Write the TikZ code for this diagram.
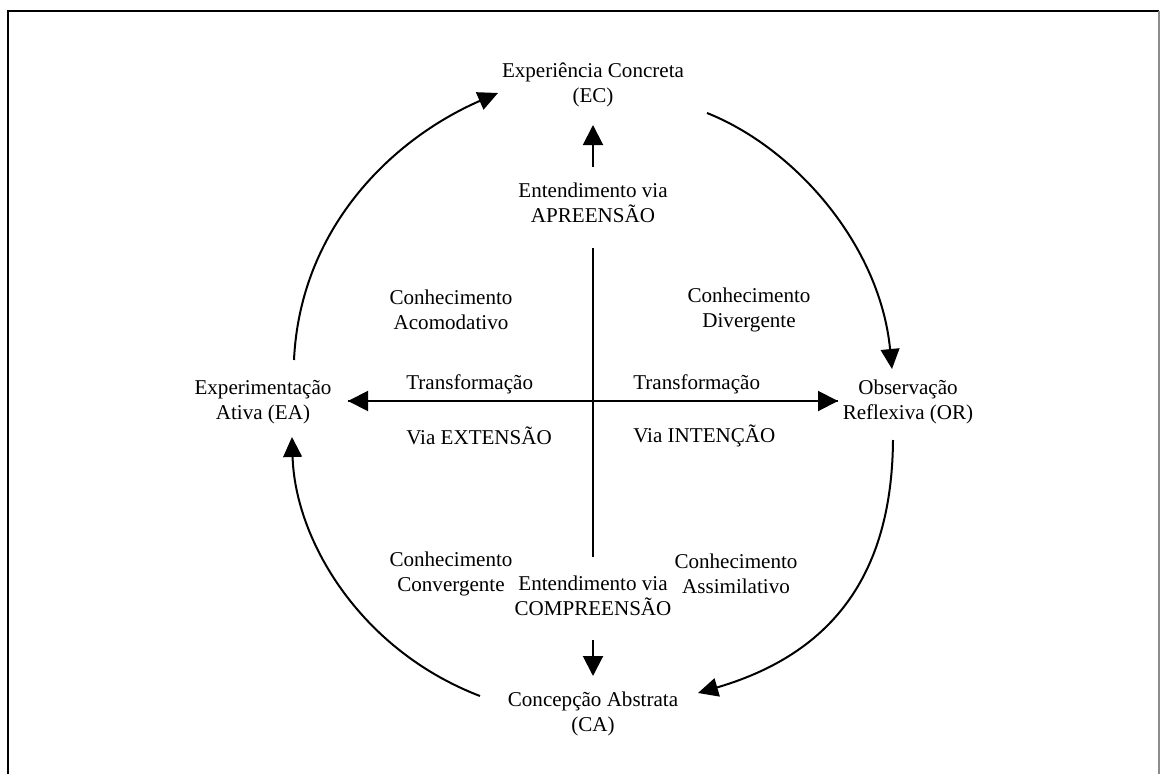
\documentclass[tikz,border=0pt]{standalone}
\usepackage{fontspec}
\setmainfont{Liberation Serif}
\usetikzlibrary{arrows.meta}
\begin{document}
\begin{tikzpicture}[x=0.75pt,y=-0.75pt,
  txt/.style={align=center, inner sep=0pt, font=\fontsize{15.8}{18.75}\selectfont},
  txtw/.style={anchor=west, inner sep=0pt, font=\fontsize{15.8}{18.75}\selectfont},
  cyc/.style={line width=1.5pt, -{Triangle[length=15pt,width=14pt]}},
  axisln/.style={line width=1.5pt},
  thinln/.style={line width=0.8pt},
  bigtip/.style={-{Triangle[length=15pt,width=15pt]}},
]
\useasboundingbox (0,0) rectangle (1160,774);
% open frame
\draw[line width=1.7pt] (8,774) -- (8,11) -- (1159,11);
\draw[line width=1pt, black!45] (1159,11) -- (1159,774);

% cycle stages
\node[txt] (ec) at (593,85) {Experiência Concreta\\(EC)};
\node[txt] (ea) at (263,402) {Experimentação\\Ativa (EA)};
\node[txt] (or) at (908,402) {Observação\\Reflexiva (OR)};
\node[txt] (ca) at (593,714) {Concepção Abstrata\\(CA)};

% understanding dimensions
\node[txt] (apr) at (593,203) {Entendimento via\\APREENSÃO};
\node[txt] (cmp) at (593,596) {Entendimento via\\COMPREENSÃO};

% knowledge types
\node[txt] (acm) at (451,310) {Conhecimento\\Acomodativo};
\node[txt] (dvg) at (749,310) {Conhecimento\\Divergente};
\node[txt] (cnv) at (451,574) {Conhecimento\\Convergente};
\node[txt] (asm) at (736,574) {Conhecimento\\Assimilativo};

% transformation labels
\node[txtw] (trl) at (406,384) {Transformação};
\node[txtw] (ext) at (406,436) {Via EXTENSÃO};
\node[txtw] (trr) at (633,384) {Transformação};
\node[txtw] (itn) at (633,436) {Via INTENÇÃO};

% axes
\coordinate (ctr) at (593,401);
\coordinate (ea-in) at (348,401);
\coordinate (or-in) at (838,401);
\draw[axisln] (593,248) -- (593,557);
\draw[thinln] (ea-in) -- (or-in);
\draw[axisln] (575,401) -- (612,401);
\draw[axisln,bigtip] (387,401) -- (ea-in);
\draw[axisln,bigtip] (802,401) -- (or-in);

% short arrows to EC and CA
\draw[axisln,bigtip] (apr.north) ++(0,-16) coordinate (up-a) -- (593,125) coordinate (up-b);
\draw[axisln,bigtip] (cmp.south) ++(0,24) coordinate (dn-a) -- (593,676) coordinate (dn-b);

% cycle arcs
\coordinate (ea-out) at (294,360);
\coordinate (ec-in) at (498,93);
\coordinate (ec-out) at (707,113);
\coordinate (or-tip) at (892,369);
\coordinate (or-out) at (893,440);
\coordinate (ca-in) at (698,693);
\coordinate (ca-out) at (480,696);
\coordinate (ea-tip) at (292,437);
\draw[cyc] (ea-out) .. controls (300,230) and (390,140) .. (ec-in);
\draw[cyc] (ec-out) .. controls (795,148) and (880,245) .. (or-tip);
\draw[cyc] (or-out) .. controls (892,560) and (845,650) .. (ca-in);
\draw[cyc] (ca-out) .. controls (360,650) and (295,540) .. (ea-tip);
\end{tikzpicture}
\end{document}
